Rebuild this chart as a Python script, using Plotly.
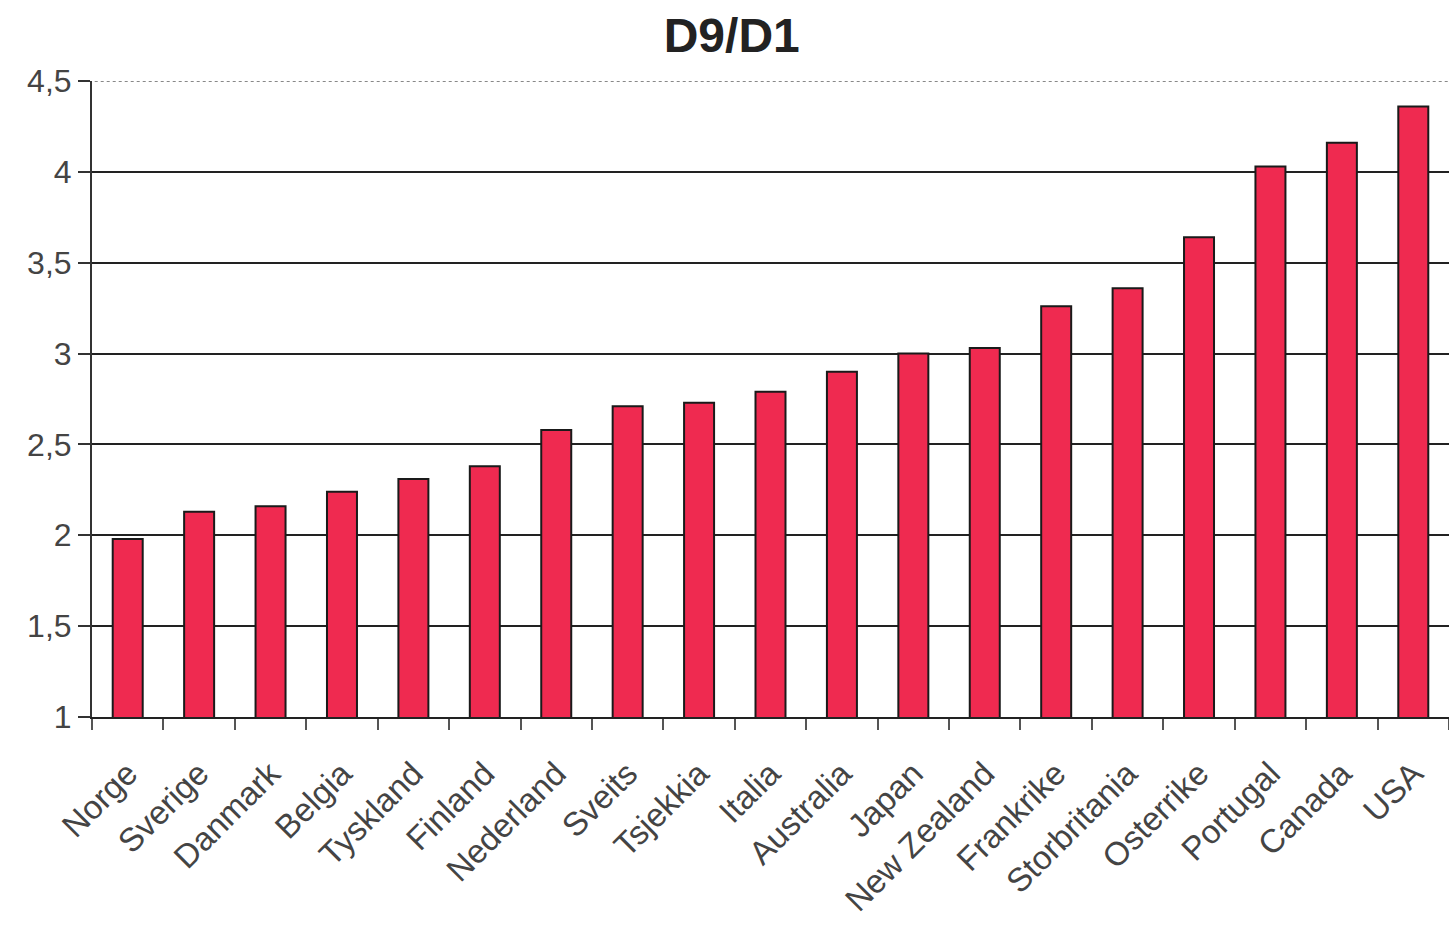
import plotly.graph_objects as go

countries = ["Norge", "Sverige", "Danmark", "Belgia", "Tyskland", "Finland", "Nederland",
             "Sveits", "Tsjekkia", "Italia", "Australia", "Japan", "New Zealand", "Frankrike",
             "Storbritania", "Osterrike", "Portugal", "Canada", "USA"]
ratio = [1.98, 2.13, 2.16, 2.24, 2.31, 2.38, 2.58, 2.71, 2.73, 2.79, 2.90, 3.00, 3.03,
         3.26, 3.36, 3.64, 4.03, 4.16, 4.36]
y_ticks = [1, 1.5, 2, 2.5, 3, 3.5, 4, 4.5]
y_tick_text = ["1", "1,5", "2", "2,5", "3", "3,5", "4", "4,5"]

font_family = "Liberation Sans, Arial, sans-serif"

fig = go.Figure(go.Bar(
    x=countries, y=ratio, base=0,
    marker=dict(color="#EF2A50", line=dict(color="#1a1a1a", width=2)),
    width=0.42,
))

fig.update_layout(
    width=1449, height=931,
    margin=dict(l=92, r=0, t=81, b=214),
    paper_bgcolor="white", plot_bgcolor="white",
    showlegend=False,
    bargap=0.58,
    title=dict(text="<b>D9/D1</b>", x=0.505, xanchor="center", y=0.962, yanchor="middle",
               font=dict(family=font_family, size=48, color="#222222")),
    font=dict(family=font_family, color="#444444"),
)

fig.update_xaxes(
    range=[-0.5, 18.5],
    showline=True, linecolor="#222222", linewidth=2,
    ticks="outside", tickson="boundaries", ticklen=11, tickcolor="#555555", tickwidth=1.5,
    tickangle=-45, tickfont=dict(size=33, color="#444444"),
    ticklabelstandoff=22,
    showgrid=False,
)
fig.update_yaxes(
    range=[1, 4.5],
    tickvals=y_ticks, ticktext=y_tick_text,
    showline=True, linecolor="#333333", linewidth=2,
    ticks="outside", ticklen=12, tickcolor="#333333", tickwidth=1.5,
    tickfont=dict(size=32, color="#444444"),
    showgrid=True, gridcolor="#222222", gridwidth=1.5,
    zeroline=False,
)

# top gridline shown dotted in the reference
fig.add_shape(type="line", xref="paper", yref="y", x0=0.002, x1=1, y0=4.5, y1=4.5,
              line=dict(color="white", width=4), layer="above")
fig.add_shape(type="line", xref="paper", yref="y", x0=0.002, x1=1, y0=4.5, y1=4.5,
              line=dict(color="#888888", width=2, dash="dot"), layer="above")

fig.write_html("out.html")
